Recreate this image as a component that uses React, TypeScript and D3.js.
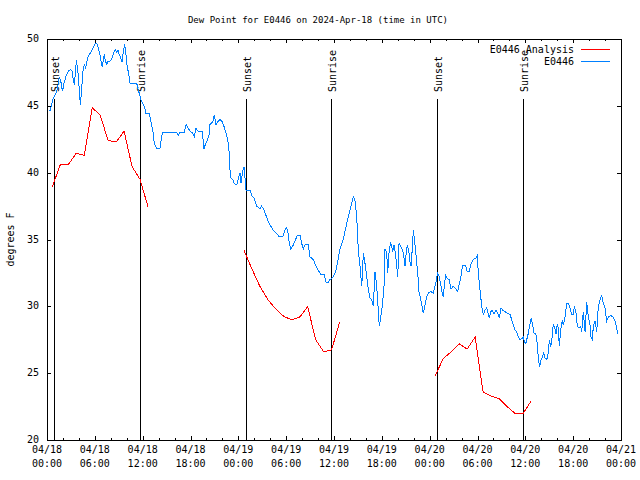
import React from 'react';
import * as d3 from 'd3';

// ---- data (hours since 2024-04-18 00:00 UTC) ----
const titleText = 'Dew Point for E0446 on 2024-Apr-18 (time in UTC)';
const yLabelText = 'degrees F';
const seriesNames = ['E0446 Analysis', 'E0446'];
const seriesColors = ['#ff0000', '#0080ff'];

const yTickValues = [20, 25, 30, 35, 40, 45, 50];

const sunLabels = ['Sunset', 'Sunrise', 'Sunset', 'Sunrise', 'Sunset', 'Sunrise'];
const sunHours = [0.92, 11.7, 25.0, 35.66, 48.96, 59.75];

// Analysis (hourly, three runs separated by gaps)
const analysisHours = [
  0.67, 1.67, 2.67, 3.67, 4.67, 5.67, 6.67, 7.67, 8.67, 9.67, 10.67, 11.67, 12.67, null,
  24.7, 25.7, 26.7, 27.7, 28.7, 29.7, 30.7, 31.7, 32.7, 33.7, 34.7, 35.7, 36.7, null,
  48.7, 49.7, 50.7, 51.7, 52.7, 53.7, 54.7, 55.7, 56.7, 57.7, 58.7, 59.7, 60.7,
];
const analysisValues = [
  38.95, 40.6, 40.6, 41.45, 41.3, 44.86, 44.3, 42.4, 42.3, 43.1, 40.45, 39.5, 37.45, null,
  34.2, 32.8, 31.5, 30.5, 29.8, 29.25, 28.98, 29.2, 29.97, 27.5, 26.6, 26.75, 28.8, null,
  24.8, 26.1, 26.6, 27.2, 26.8, 27.7, 23.6, 23.3, 23.1, 22.5, 22.0, 21.95, 22.9,
];

// Observations
const obsHours = [
  0.25,0.38,0.59,0.79,1.00,1.22,1.42,1.54,1.72,1.84,
  1.97,2.13,2.38,2.67,2.97,3.14,3.30,3.42,3.55,3.68,
  3.80,3.93,4.05,4.18,4.30,4.43,4.55,4.73,4.85,4.98,
  5.18,5.39,5.61,5.81,6.02,6.15,6.31,6.49,6.65,6.81,
  6.94,7.06,7.19,7.31,7.49,7.61,7.81,8.03,8.24,8.40,
  8.57,8.74,8.91,9.03,9.24,9.41,9.57,9.75,9.91,10.07,
  10.25,10.41,11.25,11.45,11.67,11.88,12.08,12.29,12.42,12.83,
  13.05,13.26,13.46,13.76,14.17,14.39,14.51,16.27,16.47,16.68,
  17.19,17.44,17.65,17.94,18.23,18.48,18.69,18.98,19.48,19.69,
  19.91,20.11,20.32,20.44,20.79,20.99,21.20,21.41,21.70,21.99,
  22.24,22.54,22.74,22.83,22.96,23.04,23.29,23.46,23.80,24.05,
  24.21,24.34,24.55,24.71,24.84,24.96,25.13,25.46,25.68,25.97,
  26.31,26.72,26.93,27.22,27.47,27.76,28.06,28.39,28.73,29.14,
  29.57,29.86,30.07,30.27,30.39,30.57,30.82,31.11,31.40,31.74,
  31.95,32.15,32.36,32.78,32.99,33.40,33.74,34.03,34.33,34.75,
  35.00,35.29,35.50,35.91,36.25,36.54,36.75,37.17,37.59,37.92,
  38.22,38.42,38.64,38.85,39.05,39.26,39.48,39.68,39.89,40.10,
  40.30,40.52,40.73,40.93,41.14,41.36,41.56,41.68,41.86,42.06,
  42.27,42.40,42.61,42.74,42.90,43.11,43.36,43.53,43.69,43.87,
  43.99,44.16,44.37,44.62,44.78,44.91,45.03,45.20,45.41,45.53,
  45.66,45.82,45.95,46.16,46.37,46.50,46.66,46.88,47.08,47.20,
  47.42,47.63,47.83,48.13,48.46,48.76,48.88,49.01,49.21,49.39,
  49.55,49.71,49.84,50.01,50.21,50.43,50.68,50.97,51.27,51.52,
  51.72,51.89,52.10,52.31,52.52,52.72,52.97,53.19,53.48,53.78,
  53.98,54.10,54.32,54.53,54.73,54.94,55.16,55.36,55.48,55.66,
  55.86,56.07,56.32,56.54,56.74,56.95,57.16,57.45,57.74,58.08,
  58.29,58.49,58.71,58.92,59.12,59.33,59.62,59.75,59.87,60.05,
  60.17,60.38,60.59,60.75,60.93,61.09,61.30,61.43,61.55,61.63,
  61.80,61.93,62.13,62.31,62.47,62.68,62.88,63.01,63.18,63.31,
  63.51,63.72,63.85,64.01,64.14,64.26,64.44,64.64,64.76,64.98,
  65.19,65.39,65.60,65.82,66.02,66.14,66.36,66.52,66.73,66.95,
  67.07,67.27,67.49,67.70,67.90,68.11,68.24,68.40,68.53,68.74,
  68.96,69.08,69.24,69.45,69.58,69.78,69.99,70.21,70.41,70.75,
  71.04,71.25,71.46,71.59,
];
const obsValues = [
  44.7,44.6,45.1,45.6,45.8,46.1,46.7,47.1,46.9,46.4,
  46.1,46.7,47.2,47.6,47.7,47.6,46.9,46.6,47.4,48.4,
  47.9,47.3,46.2,45.1,45.9,46.9,47.9,48.1,47.8,48.3,
  48.7,48.9,49.1,49.4,49.6,49.7,49.6,49.2,48.8,48.2,
  47.9,48.4,48.9,48.4,48.1,48.3,48.3,48.4,48.7,49.0,
  49.2,49.0,49.2,48.9,48.6,48.3,49.0,49.6,48.8,47.9,
  47.4,46.7,46.7,46.2,45.7,45.3,45.1,44.8,44.4,44.4,
  43.8,43.2,42.2,41.8,41.8,42.7,43.0,43.0,42.8,43.0,
  43.0,43.6,43.4,43.1,43.0,42.7,43.3,43.1,43.1,41.8,
  42.2,42.4,42.8,43.6,43.8,44.3,43.6,43.8,44.0,43.8,
  43.4,42.8,42.2,41.6,40.2,39.6,39.5,39.2,39.1,39.7,
  40.0,39.2,40.1,40.4,39.6,38.7,38.7,38.7,38.3,38.1,
  37.5,37.3,37.5,37.2,36.8,36.3,36.0,35.7,35.5,35.2,
  35.2,35.7,35.9,35.4,34.7,34.3,34.5,34.9,35.3,35.3,
  34.7,34.3,34.6,34.6,33.7,33.5,33.0,32.7,32.4,32.4,
  31.8,31.8,32.0,32.2,32.7,33.6,34.3,35.0,36.2,37.0,
  37.7,38.2,37.9,36.7,34.2,33.0,31.5,34.0,33.2,32.2,
  31.3,30.6,30.5,30.0,32.6,31.5,29.7,28.5,29.2,30.0,
  31.5,34.3,34.0,32.5,34.0,34.8,34.1,34.6,34.0,33.0,
  32.2,34.7,34.5,34.2,33.6,33.0,33.8,34.6,34.0,33.3,
  33.0,34.3,35.7,34.6,33.3,32.5,31.1,30.5,29.9,29.5,
  30.1,30.7,31.0,31.1,31.0,31.7,32.2,32.5,32.2,31.6,
  31.1,30.7,31.6,32.3,32.1,32.0,31.3,31.5,31.3,31.1,
  31.7,32.1,33.0,33.1,33.0,32.6,32.6,33.2,33.5,33.6,
  33.8,32.5,31.2,30.0,29.4,29.7,29.9,29.4,29.1,29.6,
  29.7,29.4,29.7,29.5,29.1,29.9,29.7,29.6,29.5,29.4,
  29.0,28.6,28.2,28.1,27.7,27.5,27.6,27.7,27.4,27.2,
  27.5,28.0,28.7,29.1,28.6,28.0,28.0,27.5,26.9,26.0,
  25.5,25.9,26.2,26.5,26.1,26.0,26.5,27.5,27.0,27.4,
  28.7,28.3,27.9,28.7,28.3,27.0,28.2,29.0,28.6,29.2,
  30.2,30.2,29.9,29.4,29.4,30.0,29.5,28.5,28.4,28.5,
  28.1,29.6,28.1,30.3,29.2,28.6,27.7,27.5,28.5,28.9,
  28.1,29.5,30.2,30.6,30.8,30.2,29.9,28.9,29.2,29.3,
  29.2,28.9,28.4,27.9,
];

// ---- layout ----
const W = 640;
const H = 480;
const PL = 47, PR = 621, PT = 39, PB = 440;
const START = Date.UTC(2024, 3, 18);
const toDate = (h: number) => new Date(START + h * 3600000);
const FONT = '"DejaVu Sans Mono", "Liberation Mono", monospace';

export default function App() {
  const x = d3.scaleUtc().domain([toDate(0), toDate(72)]).range([PL, PR]);
  const y = d3.scaleLinear().domain([20, 50]).range([PB, PT]);

  const majors = d3.utcHour.every(6)!.range(toDate(0), toDate(72.01));
  const minors = d3.utcHour.every(2)!.range(toDate(0), toDate(72.01));
  const fmtDate = d3.utcFormat('%m/%d');
  const fmtTime = d3.utcFormat('%H:%M');

  type P = { t: Date; v: number | null };
  const analysis: P[] = analysisHours.map((h, i) => ({
    t: toDate(h == null ? 0 : (h as number)),
    v: h == null ? null : (analysisValues[i] as number),
  }));
  const obs: P[] = obsHours.map((h, i) => ({ t: toDate(h), v: obsValues[i] }));

  const line = d3
    .line<P>()
    .defined((d) => d.v != null)
    .x((d) => x(d.t))
    .y((d) => y(d.v as number));

  const legendRows = [50, 62];

  return (
    <svg
      width={W}
      height={H}
      style={{ position: 'absolute', left: 0, top: 0, background: '#fff' }}
      fontFamily={FONT}
      fontSize={10}
    >
      <rect x={0} y={0} width={W} height={H} fill="#fff" />
      {/* title */}
      <text x={318} y={20} fontSize={9} textAnchor="middle" dominantBaseline="middle" fill="#000">
        {titleText}
      </text>
      {/* y label */}
      <text
        transform={`translate(11,${(PT + PB) / 2}) rotate(-90)`}
        textAnchor="middle"
        dominantBaseline="middle"
        fill="#000"
      >
        {yLabelText}
      </text>

      {/* y ticks */}
      {yTickValues.map((v) => (
        <g key={'y' + v} shapeRendering="crispEdges">
          <line x1={PL} x2={PL + 4} y1={Math.round(y(v)) + 0.5} y2={Math.round(y(v)) + 0.5} stroke="#000" />
          <line x1={PR - 4} x2={PR} y1={Math.round(y(v)) + 0.5} y2={Math.round(y(v)) + 0.5} stroke="#000" />
          <text x={PL - 8} y={y(v)} textAnchor="end" dominantBaseline="middle" fill="#000">
            {v}
          </text>
        </g>
      ))}

      {/* x minor ticks */}
      {minors.map((d, i) => {
        const xx = Math.round(x(d)) + 0.5;
        return (
          <g key={'m' + i} shapeRendering="crispEdges">
            <line x1={xx} x2={xx} y1={PB} y2={PB - 2} stroke="#000" />
            <line x1={xx} x2={xx} y1={PT} y2={PT + 2} stroke="#000" />
          </g>
        );
      })}
      {/* x major ticks & labels */}
      {majors.map((d, i) => {
        const xx = Math.round(x(d)) + 0.5;
        return (
          <g key={'M' + i}>
            <line x1={xx} x2={xx} y1={PB} y2={PB - 4} stroke="#000" shapeRendering="crispEdges" />
            <line x1={xx} x2={xx} y1={PT} y2={PT + 4} stroke="#000" shapeRendering="crispEdges" />
            <text x={x(d)} y={453} textAnchor="middle" fill="#000">
              {fmtDate(d)}
            </text>
            <text x={x(d)} y={467} textAnchor="middle" fill="#000">
              {fmtTime(d)}
            </text>
          </g>
        );
      })}

      {/* sunrise / sunset markers */}
      {sunHours.map((h, i) => {
        const xx = Math.round(x(toDate(h))) + 0.5;
        return (
          <g key={'s' + i}>
            <line x1={xx} x2={xx} y1={99} y2={PB} stroke="#000" strokeWidth={1} shapeRendering="crispEdges" />
            <text
              transform={`translate(${xx + 1},92) rotate(-90)`}
              textAnchor="start"
              dominantBaseline="middle"
              fill="#000"
            >
              {sunLabels[i]}
            </text>
          </g>
        );
      })}

      {/* series */}
      <path d={line(obs) || ''} fill="none" stroke={seriesColors[1]} strokeWidth={1} shapeRendering="crispEdges" />
      <path d={line(analysis) || ''} fill="none" stroke={seriesColors[0]} strokeWidth={1} shapeRendering="crispEdges" />

      {/* border */}
      <rect x={PL + 0.5} y={PT + 0.5} width={PR - PL} height={PB - PT} fill="none" stroke="#000" shapeRendering="crispEdges" />

      {/* legend */}
      {seriesNames.map((name, i) => (
        <g key={'l' + i}>
          <text x={574} y={legendRows[i]} textAnchor="end" dominantBaseline="middle" fill="#000">
            {name}
          </text>
          <rect
            x={581}
            y={legendRows[i] - 1}
            width={29}
            height={1}
            fill={seriesColors[i]}
            shapeRendering="crispEdges"
          />
        </g>
      ))}
    </svg>
  );
}
